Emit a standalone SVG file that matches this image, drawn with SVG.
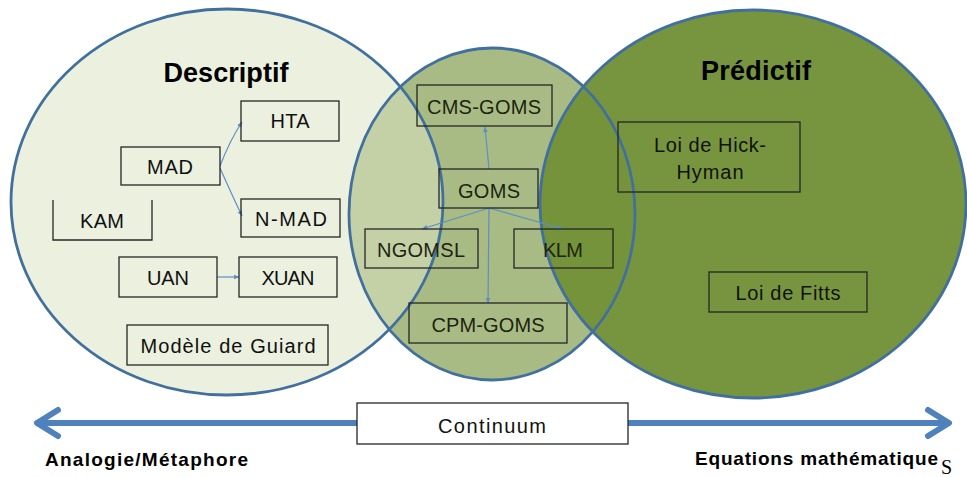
<svg xmlns="http://www.w3.org/2000/svg" width="967" height="477" viewBox="0 0 967 477">
<defs>
<style>
.ring{fill:none;stroke:#41709e;stroke-width:2.8}
.box{fill:none;stroke:#262626;stroke-width:1.3}
.t{font-family:"Liberation Sans",Arial,sans-serif;font-size:20px;fill:#111;text-anchor:middle}
.tm{font-family:"Liberation Sans",Arial,sans-serif;font-size:20px;fill:#1c2410;text-anchor:middle}
.title{font-family:"Liberation Sans",Arial,sans-serif;font-size:27px;font-weight:bold;fill:#000;text-anchor:middle}
.lbl{font-family:"Liberation Sans",Arial,sans-serif;font-size:19px;font-weight:bold;fill:#000}
.con{fill:none;stroke:#5d8fc4;stroke-width:1.2}
.big{fill:none;stroke:#4f81bd;stroke-width:6;stroke-linecap:round;stroke-linejoin:round}
</style>
<marker id="ah" viewBox="0 0 10 10" refX="9" refY="5" markerWidth="6" markerHeight="6" orient="auto" markerUnits="userSpaceOnUse">
<path d="M0,1 L10,5 L0,9 z" fill="#5d8fc4"/>
</marker>
</defs>

<g id="sets">
<ellipse id="set-middle-fill" cx="492" cy="214" rx="143" ry="166" fill="#a8bb84"/>
<ellipse id="set-left-fill" cx="227" cy="202" rx="216" ry="193" fill="#dbe4c5" fill-opacity="0.55"/>
<ellipse id="set-right-fill" cx="753" cy="204" rx="213" ry="194" fill="#719137" fill-opacity="0.96"/>
<ellipse class="ring" cx="227" cy="202" rx="216" ry="193"/>
<ellipse class="ring" cx="492" cy="214" rx="143" ry="166"/>
<ellipse class="ring" cx="753" cy="204" rx="213" ry="194"/>
</g>

<g id="titles">
<text class="title" x="226" y="82" textLength="125">Descriptif</text>
<text class="title" x="756" y="80" textLength="110">Prédictif</text>
</g>

<g id="connectors">
<path class="con" d="M220,166 Q230,140 242,122" marker-end="url(#ah)"/>
<path class="con" d="M220,168 Q232,195 242,216" marker-end="url(#ah)"/>
<path class="con" d="M217,277 L239,277" marker-end="url(#ah)"/>
<path class="con" d="M489,169 L485,127" marker-end="url(#ah)"/>
<path class="con" d="M489,208 L422,229" marker-end="url(#ah)"/>
<path class="con" d="M489,208 L563,229" marker-end="url(#ah)"/>
<path class="con" d="M489,208 L488,303" marker-end="url(#ah)"/>
</g>

<g id="n-hta"><rect class="box" x="241" y="101" width="98" height="40"/><text class="t" x="290" y="128" textLength="39">HTA</text></g>
<g id="n-mad"><rect class="box" x="121" y="147" width="99" height="38"/><text class="t" x="170" y="174" textLength="46">MAD</text></g>
<g id="n-nmad"><rect class="box" x="241" y="199" width="99" height="38"/><text class="t" x="291" y="226" textLength="72">N-MAD</text></g>
<g id="n-kam"><path class="box" d="M53,200 L53,240 L152,240 L152,200"/><text class="t" x="102" y="228" textLength="44">KAM</text></g>
<g id="n-uan"><rect class="box" x="119" y="257" width="98" height="40"/><text class="t" x="168" y="285" textLength="42">UAN</text></g>
<g id="n-xuan"><rect class="box" x="239" y="257" width="98" height="40"/><text class="t" x="288" y="285" textLength="53">XUAN</text></g>
<g id="n-guiard"><rect class="box" x="127" y="325" width="201" height="40"/><text class="t" x="228" y="353" textLength="175">Modèle de Guiard</text></g>

<g id="n-cmsgoms"><rect class="box" x="417" y="85" width="135" height="41"/><text class="tm" x="484" y="114" textLength="114">CMS-GOMS</text></g>
<g id="n-goms"><rect class="box" x="439" y="169" width="99" height="39"/><text class="tm" x="489" y="198" textLength="62">GOMS</text></g>
<g id="n-ngomsl"><rect class="box" x="365" y="229" width="113" height="39"/><text class="tm" x="421" y="257" textLength="88">NGOMSL</text></g>
<g id="n-klm"><rect class="box" x="514" y="229" width="99" height="39"/><text class="tm" x="563" y="257" textLength="40">KLM</text></g>
<g id="n-cpmgoms"><rect class="box" x="409" y="303" width="158" height="40"/><text class="tm" x="488" y="332" textLength="113">CPM-GOMS</text></g>

<g id="n-hick"><rect class="box" x="618" y="122" width="182" height="70"/><text class="t" x="710" y="152" textLength="112">Loi de Hick-</text><text class="t" x="710" y="179" textLength="67">Hyman</text></g>
<g id="n-fitts"><rect class="box" x="709" y="272" width="158" height="40"/><text class="t" x="788" y="300" textLength="105">Loi de Fitts</text></g>

<g id="continuum">
<path class="big" d="M38,423 L948,423"/>
<path class="big" d="M58,410 L37,423 L58,436"/>
<path class="big" d="M928,410 L949,423 L928,436"/>
<rect x="357" y="403" width="271" height="41" fill="#fff" stroke="#262626" stroke-width="1.3"/>
<text class="t" x="492" y="433" textLength="108">Continuum</text>
</g>

<g id="axis-labels">
<text class="lbl" x="45" y="466" textLength="203">Analogie/Métaphore</text>
<text class="lbl" x="695" y="465" textLength="243">Equations mathématique</text>
<text x="941" y="474" font-family="'Liberation Serif','Times New Roman',serif" font-size="20" fill="#000">S</text>
</g>
</svg>
